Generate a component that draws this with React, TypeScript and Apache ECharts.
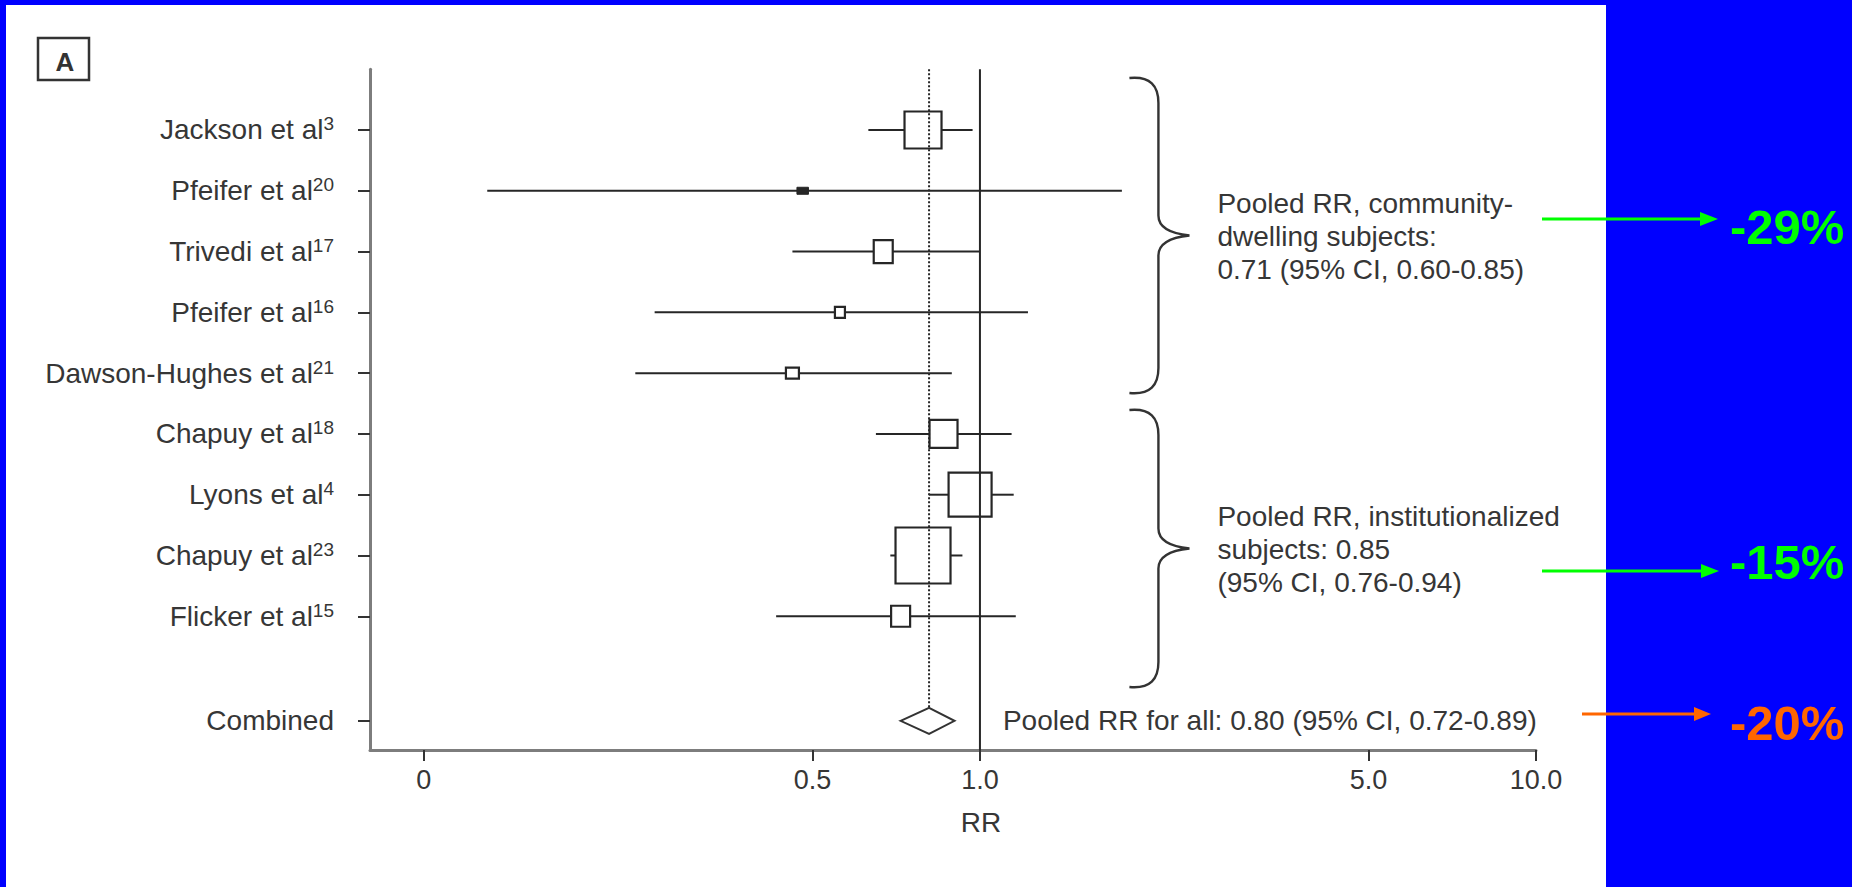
import React, { useEffect, useRef } from "react";
import * as echarts from "echarts";

// ---------- data ----------
const studyNames = [
  "Jackson et al",
  "Pfeifer et al",
  "Trivedi et al",
  "Pfeifer et al",
  "Dawson-Hughes et al",
  "Chapuy et al",
  "Lyons et al",
  "Chapuy et al",
  "Flicker et al",
];
const studyRefs = ["3", "20", "17", "16", "21", "18", "4", "23", "15"];
const studyRR = [0.79, 0.48, 0.67, 0.56, 0.46, 0.86, 0.96, 0.79, 0.72];
const studyLow = [0.63, 0.13, 0.46, 0.26, 0.24, 0.65, 0.81, 0.69, 0.43];
const studyHigh = [0.97, 1.8, 1.0, 1.22, 0.89, 1.14, 1.15, 0.93, 1.16];
const studyRows = [1, 2, 3, 4, 5, 6, 7, 8, 9];

const combinedName = "Combined";
const combinedRow = 10.72;
const pooledRR = 0.81;
const pooledLow = 0.72;
const pooledHigh = 0.9;

const xTickValues = [0.1, 0.5, 1, 5, 10];
const xTickLabels = ["0", "0.5", "1.0", "5.0", "10.0"];

const braceTop = [0.145, 5.606];
const braceBottom = [5.327, 10.164];
const braceRR = 2.094;
const braceTexts = [
  "Pooled RR, community-\ndwelling subjects:\n0.71 (95% CI, 0.60-0.85)",
  "Pooled RR, institutionalized\nsubjects: 0.85\n(95% CI, 0.76-0.94)",
];
const pooledAllText = "Pooled RR for all: 0.80 (95% CI, 0.72-0.89)";
const changeLabels = ["-29%", "-15%", "-20%"];

// ---------- styles ----------
const FONT = '"Liberation Sans", Arial, Helvetica, sans-serif';
const TEXT = "#363636";
const INK = "#262626";
const FS = 28;
const markerW = [37, 11.5, 19, 10, 13, 28, 43, 55, 19];
const markerH = [37, 7, 23, 11, 11, 28, 44, 56, 21];
const markerFilled = [false, true, false, false, false, false, false, false, false];

const L = (v: number) => Math.log10(v);
const yTickValues = [...studyRows, combinedRow];

export default function App() {
  const ref = useRef<HTMLDivElement>(null);

  useEffect(() => {
    if (!ref.current) return;
    const chart = echarts.init(ref.current, undefined, { renderer: "svg" });

    const studyData = studyRows.map((r, i) => [L(studyRR[i]), r, L(studyLow[i]), L(studyHigh[i]), i]);

    const pctText = (text: string, y: number, color: string) => ({
      type: "text",
      z: 10,
      x: 1730,
      y,
      style: {
        text,
        fill: color,
        fontSize: 49,
        fontWeight: "bold",
        fontFamily: FONT,
        align: "left",
        verticalAlign: "middle",
      },
    });

    const option: any = {
      animation: false,
      backgroundColor: "#ffffff",
      textStyle: { fontFamily: FONT },
      grid: { left: 370, top: 69.2, width: 1166, height: 680.8 },
      xAxis: {
        type: "value",
        min: L(0.08),
        max: L(10),
        splitLine: { show: false },
        axisLine: { show: true, onZero: false, lineStyle: { color: "#7d7d7d", width: 3 } },
        axisTick: {
          show: true,
          customValues: xTickValues.map(L),
          length: 11,
          lineStyle: { color: "#333", width: 2 },
        },
        axisLabel: {
          customValues: xTickValues.map(L),
          formatter: (v: number) => {
            const i = xTickValues.findIndex((t) => Math.abs(L(t) - v) < 1e-6);
            return i >= 0 ? xTickLabels[i] : "";
          },
          fontSize: 27,
          color: TEXT,
          margin: 16,
          fontFamily: FONT,
        },
        name: "RR",
        nameLocation: "middle",
        nameGap: 58,
        nameTextStyle: { fontSize: FS, color: TEXT, padding: [0, 0, 0, 56], fontFamily: FONT },
      },
      yAxis: {
        type: "value",
        inverse: true,
        min: 0,
        max: 11.2,
        splitLine: { show: false },
        axisLine: { show: true, onZero: false, lineStyle: { color: "#7d7d7d", width: 3 } },
        axisTick: {
          show: true,
          customValues: yTickValues,
          length: 12,
          lineStyle: { color: "#333", width: 2 },
        },
        axisLabel: {
          customValues: yTickValues,
          margin: 36,
          formatter: (v: number) => {
            if (Math.abs(v - combinedRow) < 1e-6) return "{n|" + combinedName + "}";
            const i = studyRows.findIndex((r) => Math.abs(r - v) < 1e-6);
            if (i < 0) return "";
            return "{n|" + studyNames[i] + "}{s|" + studyRefs[i] + "}";
          },
          rich: {
            n: { fontSize: FS, lineHeight: 31, color: TEXT, fontFamily: FONT },
            s: { fontSize: 19, lineHeight: 14, verticalAlign: "top", color: TEXT, fontFamily: FONT },
          },
        },
      },
      series: [
        {
          type: "line",
          name: "No effect",
          data: [
            [0, 0],
            [0, 11.2],
          ],
          symbol: "none",
          lineStyle: { color: INK, width: 2 },
          z: 3,
        },
        {
          type: "custom",
          name: "Studies",
          data: studyData,
          encode: { x: 0, y: 1 },
          z: 4,
          renderItem: (params: any, api: any) => {
            const i = api.value(4);
            const c = api.coord([api.value(0), api.value(1)]);
            const lo = api.coord([api.value(2), api.value(1)]);
            const hi = api.coord([api.value(3), api.value(1)]);
            const w = markerW[i];
            const h = markerH[i];
            const children: any[] = [];
            const lineStyle = { stroke: INK, lineWidth: 2 };
            if (markerFilled[i]) {
              children.push({ type: "line", shape: { x1: lo[0], y1: c[1], x2: hi[0], y2: c[1] }, style: lineStyle });
              children.push({
                type: "rect",
                shape: { x: c[0] - w / 2, y: c[1] - h / 2, width: w, height: h },
                style: { fill: INK, stroke: INK, lineWidth: 1 },
              });
            } else {
              const bl = c[0] - w / 2;
              const br = c[0] + w / 2;
              if (lo[0] < bl)
                children.push({ type: "line", shape: { x1: lo[0], y1: c[1], x2: bl, y2: c[1] }, style: lineStyle });
              if (hi[0] > br)
                children.push({ type: "line", shape: { x1: br, y1: c[1], x2: hi[0], y2: c[1] }, style: lineStyle });
              children.push({
                type: "rect",
                shape: { x: bl, y: c[1] - h / 2, width: w, height: h },
                style: { fill: "rgba(0,0,0,0)", stroke: INK, lineWidth: 2.2 },
              });
            }
            return { type: "group", children };
          },
        },
        {
          type: "custom",
          name: "Combined",
          data: [[L(pooledRR), combinedRow, L(pooledLow), L(pooledHigh)]],
          encode: { x: 0, y: 1 },
          z: 4,
          renderItem: (params: any, api: any) => {
            const c = api.coord([api.value(0), api.value(1)]);
            const lo = api.coord([api.value(2), api.value(1)]);
            const hi = api.coord([api.value(3), api.value(1)]);
            const top = api.coord([api.value(0), 0]);
            const one = api.coord([0, api.value(1)]);
            const hh = 13;
            return {
              type: "group",
              children: [
                {
                  type: "line",
                  shape: { x1: c[0], y1: top[1], x2: c[0], y2: c[1] - hh },
                  style: { stroke: INK, lineWidth: 2, lineDash: [2, 2] },
                },
                {
                  type: "polygon",
                  shape: {
                    points: [
                      [lo[0], c[1]],
                      [c[0], c[1] - hh],
                      [hi[0], c[1]],
                      [c[0], c[1] + hh],
                    ],
                  },
                  style: { fill: "#ffffff", stroke: "#333", lineWidth: 2 },
                },
                {
                  type: "text",
                  x: one[0] + 23,
                  y: c[1],
                  style: {
                    text: pooledAllText,
                    fill: TEXT,
                    fontSize: FS,
                    fontFamily: FONT,
                    align: "left",
                    verticalAlign: "middle",
                  },
                },
              ],
            };
          },
        },
        {
          type: "custom",
          name: "Subgroups",
          data: braceTop.map((t, i) => [L(braceRR), t, braceBottom[i], i]),
          encode: { x: 0, y: 1 },
          z: 4,
          renderItem: (params: any, api: any) => {
            const i = api.value(3);
            const t = api.coord([api.value(0), api.value(1)]);
            const b = api.coord([api.value(0), api.value(2)]);
            const xs = t[0];
            const yT = t[1];
            const yB = b[1];
            const yM = (yT + yB) / 2;
            const xl = xs - 29;
            const xp = xs + 31;
            const d =
              `M ${xl} ${yT} C ${xs - 8} ${yT - 2} ${xs} ${yT + 8} ${xs} ${yT + 25} ` +
              `L ${xs} ${yM - 20} C ${xs} ${yM - 8} ${xs + 12} ${yM - 2} ${xp} ${yM} ` +
              `C ${xs + 12} ${yM + 2} ${xs} ${yM + 8} ${xs} ${yM + 20} ` +
              `L ${xs} ${yB - 25} C ${xs} ${yB - 8} ${xs - 8} ${yB + 2} ${xl} ${yB}`;
            return {
              type: "group",
              children: [
                {
                  type: "path",
                  shape: { pathData: d },
                  style: { fill: "none", stroke: "#333", lineWidth: 2.4 },
                },
                {
                  type: "text",
                  x: xp + 28,
                  y: yM + 1,
                  style: {
                    text: braceTexts[i],
                    fill: TEXT,
                    fontSize: FS,
                    fontFamily: FONT,
                    lineHeight: 33,
                    align: "left",
                    verticalAlign: "middle",
                  },
                },
              ],
            };
          },
        },
      ],
      graphic: [
        { type: "rect", z: 1, shape: { x: 0, y: 0, width: 6, height: 887 }, style: { fill: "#0000ff" } },
        { type: "rect", z: 1, shape: { x: 0, y: 0, width: 1852, height: 5 }, style: { fill: "#0000ff" } },
        { type: "rect", z: 1, shape: { x: 1606, y: 0, width: 246, height: 887 }, style: { fill: "#0000ff" } },
        {
          type: "rect",
          z: 5,
          shape: { x: 38, y: 38, width: 51, height: 42 },
          style: { fill: "none", stroke: "#333", lineWidth: 2.5 },
        },
        {
          type: "text",
          z: 5,
          x: 65,
          y: 62,
          style: {
            text: "A",
            fill: "#333",
            fontSize: 26,
            fontWeight: "bold",
            fontFamily: FONT,
            align: "center",
            verticalAlign: "middle",
          },
        },
        // arrows
        { type: "line", z: 10, shape: { x1: 1542, y1: 219, x2: 1703, y2: 219 }, style: { stroke: "#00ff00", lineWidth: 3 } },
        {
          type: "polygon",
          z: 10,
          shape: { points: [[1700, 212], [1718, 219], [1700, 226]] },
          style: { fill: "#00ff00" },
        },
        { type: "line", z: 10, shape: { x1: 1542, y1: 571, x2: 1704, y2: 571 }, style: { stroke: "#00ff00", lineWidth: 3 } },
        {
          type: "polygon",
          z: 10,
          shape: { points: [[1701, 564], [1719, 571], [1701, 578]] },
          style: { fill: "#00ff00" },
        },
        { type: "line", z: 10, shape: { x1: 1582, y1: 714, x2: 1697, y2: 714 }, style: { stroke: "#ff6600", lineWidth: 3 } },
        {
          type: "polygon",
          z: 10,
          shape: { points: [[1694, 707], [1711, 714], [1694, 721]] },
          style: { fill: "#ff6600" },
        },
        pctText(changeLabels[0], 227, "#00ff00"),
        pctText(changeLabels[1], 562, "#00ff00"),
        pctText(changeLabels[2], 723, "#ff6600"),
      ],
    };

    chart.setOption(option);
    return () => chart.dispose();
  }, []);

  return (
    <div
      ref={ref}
      style={{ position: "absolute", left: 0, top: 0, width: 1852, height: 887 }}
    />
  );
}
